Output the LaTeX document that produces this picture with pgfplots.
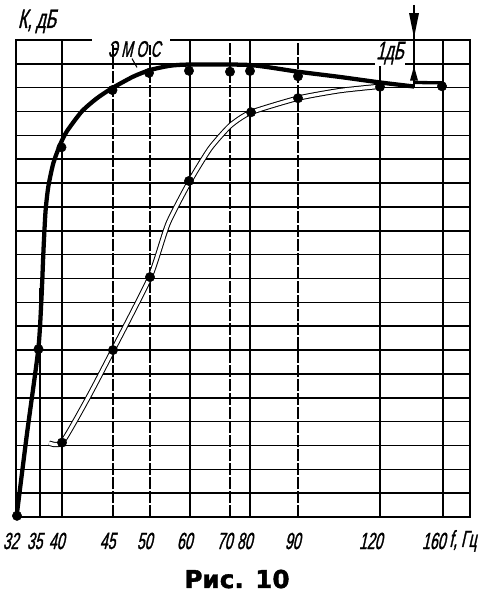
\documentclass[border=0pt]{standalone}
\usepackage{fontspec}
\setmainfont{Liberation Sans}
\newfontfamily\gost{Liberation Sans}[FakeStretch=0.6,FakeSlant=0.22,FakeBold=1.2]
\newfontfamily\boldf{DejaVu Sans}[BoldFeatures={FakeBold=1.5}]
\usepackage{pgfplots}
\pgfplotsset{compat=1.18}
\begin{document}
\begin{tikzpicture}
\begin{axis}[
  x=0.75pt, y=17.8875pt,
  xmin=16, xmax=470, ymin=0, ymax=20,
  clip=false,
  axis line style={line width=1.4pt},
  major tick length=0pt, minor tick length=0pt,
  xtick={16,62,190,250,380,443},
  xticklabels={32,40,60,80,120,160},
  minor xtick={113,150,230,298},
  extra x ticks={40,113,150,230,298},
  extra x tick labels={35,45,50,70,90},
  extra x tick style={xmajorgrids=false},
  xmajorgrids, xminorgrids, ymajorgrids,
  ytick={0,1,...,20}, yticklabels={},
  major grid style={black, line width=1.2pt},
  minor grid style={black, line width=1.1pt, dash pattern=on 9pt off 1.5pt},
  xticklabel style={font=\gost\fontsize{17.5}{18}\selectfont, anchor=east, yshift=-18pt, xshift=2pt, inner sep=0pt},
]
% bounding box of the whole figure
\path (axis cs:0,-3.354) rectangle (axis cs:486,21.677);
% partial grid line at 35 Hz
\draw[line width=1.2pt] (axis cs:40,0) -- (axis cs:40,9.6);

% lower (hollow) curve
\addplot[black, line width=4pt, smooth, tension=0.35] coordinates {
 (49,3.1) (62,3.12) (88,5.0) (113,7.0) (150,10.06) (168,12.3) (190,14.09)
 (210,15.45) (230,16.4) (250,16.95) (298,17.56) (340,17.88) (378,18.05)};
\addplot[white, line width=2.5pt, smooth, tension=0.35] coordinates {
 (49,3.1) (62,3.12) (88,5.0) (113,7.0) (150,10.06) (168,12.3) (190,14.09)
 (210,15.45) (230,16.4) (250,16.95) (298,17.56) (340,17.88) (378,18.05)};
\addplot[only marks, mark=*, mark size=3.5pt, black] coordinates {
 (62,3.12) (113,7.0) (150,10.06) (189,14.09) (251,16.97) (298,17.56)};

% upper curve (EMOS)
\addplot[black, line width=3.2pt, smooth, tension=0.4] coordinates {
 (16.5,0) (27,3.5) (38.3,7.04) (41.5,9.2) (43.5,11.2) (45.5,12.8) (48.3,13.85)
 (53.3,14.83) (60,15.6) (66.7,16.16) (81.7,17.0) (96.7,17.55) (111.7,17.97)
 (133,18.46) (150,18.74) (170,18.92) (190,18.97) (250,18.95) (298,18.67)
 (340,18.45) (380,18.22) (414,18.05)};
\addplot[black, line width=2.5pt] coordinates {(414,18.22) (443,18.2)};
\addplot[only marks, mark=*, mark size=3.5pt, black] coordinates {
 (17,0.05) (38.5,7.04) (61.5,15.5) (112.5,17.9) (149,18.62) (189,18.71)
 (230,18.67) (250,18.7) (298,18.48) (380,18.04) (442,18.06)};

% 1 dB marker with arrows
\draw[line width=1.4pt] (axis cs:414,21.47) -- (axis cs:414,18.0);
\fill (axis cs:409,21.13) -- (axis cs:419,21.13) -- (axis cs:414,20.1) -- cycle;
\fill (axis cs:410,18.3) -- (axis cs:418,18.3) -- (axis cs:414,18.9) -- cycle;

% labels
\node[fill=white, inner sep=1pt, font=\gost\fontsize{19}{19}\selectfont] at (axis cs:390,19.45) {1дБ};
\fill[white] (axis cs:92,19.8) rectangle (axis cs:170,20.15);
\node[inner sep=1pt, font=\gost\fontsize{17}{17}\selectfont] at (axis cs:134,19.62) {Э\,М\,О\,С};
\draw[line width=0.8pt] (axis cs:132,19.22) -- (axis cs:137,18.85);
\node[font=\gost\fontsize{20}{20}\selectfont] at (axis cs:37,20.78) {К,\,дБ};
\node[font=\gost\fontsize{17.5}{18}\selectfont, anchor=west, inner sep=0pt] at (axis cs:449,-1.0) {f,\,Гц};
\node[font=\boldf\bfseries\fontsize{18.5}{19}\selectfont] at (axis cs:237,-2.6) {Рис. 10};
\end{axis}
\end{tikzpicture}
\end{document}
